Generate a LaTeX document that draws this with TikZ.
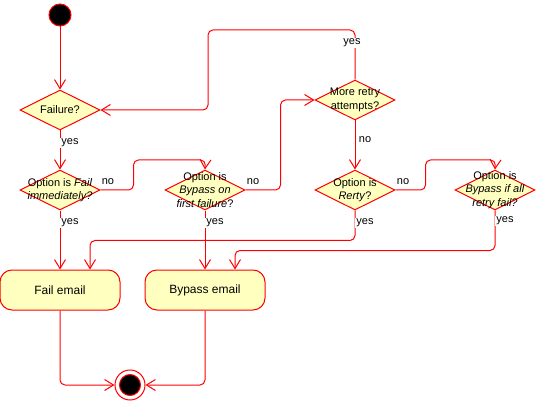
\documentclass[tikz,border=0pt]{standalone}
\usepackage{fontspec}
\setmainfont{Liberation Sans}
\usetikzlibrary{shapes.geometric,arrows.meta}
\definecolor{umlred}{HTML}{FF0000}
\definecolor{umlfill}{HTML}{FFFFC0}

\begin{document}
\begin{tikzpicture}[x=1pt,y=-1pt,
    dec/.style={diamond,draw=umlred,fill=umlfill,line width=1pt,minimum width=80pt,minimum height=40pt,inner sep=0pt},
    dtxt/.style={align=center,inner sep=0pt,font=\fontsize{11}{13.5}\selectfont},
    act/.style={rectangle,rounded corners=12pt,draw=umlred,fill=umlfill,line width=1pt,minimum width=120pt,minimum height=40pt,font=\fontsize{12}{14}\selectfont},
    initstate/.style={circle,draw=umlred,fill=black,line width=1pt,minimum size=22pt,inner sep=0pt},
    finalstate/.style={circle,draw=umlred,fill=white,line width=1pt,minimum size=30pt,inner sep=0pt,
        path picture={\filldraw[draw=umlred,fill=black,line width=1pt] (path picture bounding box.center) circle (10.5pt);}},
    flow/.style={draw=umlred,line width=1pt,rounded corners=5pt,-{Straight Barb[length=9pt,width=11pt]}},
    edgelbl/.style={fill=white,inner sep=1pt,font=\fontsize{11}{13}\selectfont}]
    \useasboundingbox (0,0) rectangle (536,401);
    \node[initstate] (init) at (60,15) {};
    \node[dec,label={[dtxt]center:Failure?}] (failure) at (60,110) {};
    \node[dec,label={[dtxt]center:{Option is \textit{Fail}\\\textit{immediately?}}}] (failimm) at (60,190) {};
    \node[dec,label={[dtxt]center:{Option is\\\textit{Bypass on}\\\textit{first failure}?}}] (bypfirst) at (205,190) {};
    \node[dec,label={[dtxt]center:{More retry\\attempts?}}] (retry) at (355,100) {};
    \node[dec,label={[dtxt]center:{Option is\\\textit{Rerty}?}}] (isretry) at (355,190) {};
    \node[dec,label={[dtxt]center:{Option is\\\textit{Bypass if all}\\\textit{retry fail?}}}] (bypall) at (495,190) {};
    \node[act] (failmail) at (60,290) {Fail email};
    \node[act] (bypmail) at (205,290) {Bypass email};
    \node[finalstate] (final) at (130,385) {};

    \draw[flow] (init) -- (failure);
    \draw[flow] (failure) -- (failimm);
    \draw[flow] (failimm) -- (failmail);
    \draw[flow] (bypfirst) -- (bypmail);
    \draw[flow] (retry) -- (isretry);
    \draw[flow] (failimm.east) -- ++(33,0) |- ++(72,-30) -- (bypfirst.north);
    \draw[flow] (bypfirst.east) -- ++(35,0) |- (retry.west);
    \draw[flow] (retry.north) |- (208,30) |- (failure.east);
    \draw[flow] (isretry.east) -- ++(30,0) |- ++(70,-30) -- (bypall.north);
    \draw[flow] (isretry.south) -- ++(0,30) -| ([xshift=30pt]failmail.north);
    \draw[flow] (bypall.south) -- ++(0,40) -| ([xshift=30pt]bypmail.north);
    \draw[flow] (failmail.south) |- (final.west);
    \draw[flow] (bypmail.south) |- (final.east);

    \foreach \x/\y/\t [count=\i] in {70/143/yes,70/223/yes,215/223/yes,108/182/no,253/182/no,
        352/43/yes,365/140/no,403/182/no,365/223/yes,505/221/yes}
        \node[edgelbl] (lbl\i) at (\x,\y) {\t};
\end{tikzpicture}
\end{document}
